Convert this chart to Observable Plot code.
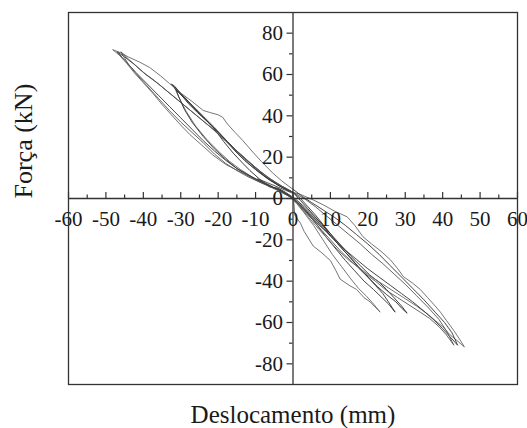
<!DOCTYPE html>
<html><head><meta charset="utf-8">
<script src="https://cdn.jsdelivr.net/npm/d3@7"></script>
<script src="https://cdn.jsdelivr.net/npm/@observablehq/plot@0.6"></script>
<style>body{margin:0;background:#fff}</style>
</head><body><div id="chart"></div>
<script>
// Tick values
const xMajorTicks = [-60,-50,-40,-30,-20,-10,0,10,20,30,40,50,60];
const xMinorTicks = [-55,-45,-35,-25,-15,-5,5,15,25,35,45,55];
const yMajorTicks = [-80,-60,-40,-20,0,20,40,60,80];
const yMinorTicks = [-70,-50,-30,-10,10,30,50,70];
const xTickLabels = ["-60","-50","-40","-30","-20","-10","0","10","20","30","40","50","60"];
const yTickLabels = ["-80","-60","-40","-20","0","20","40","60","80"];
const xLabel = "Deslocamento (mm)";
const yLabel = "Força (kN)";

// Hysteresis cycles: [displacement (mm), force (kN)]
const cycle1 = [[0,0],[1.5,-3],[3,-6],[5,-9.5],[7,-13],[9,-16],[10,-18],[8.5,-15],[6.5,-11],[4.5,-7.5],[2.5,-4],[0.5,-0.5],[-1.5,2],[-3.5,4],[-5.5,5.5],[-7.5,7.5],[-9.5,9.5],[-8,8.5],[-6,7],[-4,5.5],[-2,4],[0,2.5]];
const cycle2 = [[0,2.5],[0.5,-8],[2,-12],[3,-16],[5.4,-23],[7.5,-26],[10,-30],[11.5,-35],[12.6,-39],[15,-42],[17,-44],[19,-48],[20.6,-50],[23.3,-55],
  [21.5,-51],[19.5,-47],[17.5,-43.5],[15.5,-39],[13,-33],[10.5,-27],[8,-20],[5.5,-13],[3,-7],[1,-2.5],
  [-1,1],[-3,3],[-5,5],[-8,7.5],[-11,10.5],[-14,14],[-17,18],[-20,23],[-23,28.5],[-26,35],[-28.5,42],[-30.5,49],[-32,55],
  [-30,51],[-28,47],[-26,43.5],[-23.5,39],[-21,34.5],[-18,28.5],[-15,22.5],[-12,17],[-9,12.5],[-6,8.5],[-3,5.5],[0,3]];
const cycle3 = [[0,3],[2,0],[4,-4],[6,-8],[8,-12.5],[10,-17],[12,-22],[14,-26],[16,-30],[18,-34.5],[20,-38],[22,-42],[24,-46],[25.5,-50],[27.3,-55],
  [25.5,-51],[23.5,-47.5],[21.5,-44],[19,-40],[16.5,-35],[14,-30],[11.5,-24.5],[9,-19],[6.5,-13],[4,-7.5],[1.5,-2.5],[0,0],
  [-2,2.5],[-4,4.5],[-6.2,6],[-9,8],[-12,11],[-15,14.5],[-18,19],[-21,24],[-24,30],[-27,37],[-29,43],[-30.5,49],[-31.5,54],
  [-30,50.5],[-28,46],[-25.5,41.5],[-23,37.5],[-20.5,33],[-18,28],[-15.5,23],[-13,18.5],[-10,14],[-7,10],[-4,6.5],[-1.5,4],[0,3]];
const cycle4 = [[0,3],[2,-1],[4,-5],[6,-9],[8,-13],[10,-18],[12.5,-23],[15,-28],[17.5,-33],[20,-38],[22.5,-42.5],[25,-46.5],[27.5,-50],[29,-53],[30.5,-55.5],
  [29,-52],[27,-48],[25,-44],[23,-40.5],[20.5,-37],[18,-32.5],[15.5,-28],[13,-23],[10.5,-18],[8,-13],[5.5,-8.5],[3,-4],[0.5,0],
  [-2,3],[-4,5],[-6.2,5.6],[-9,9.5],[-11.5,13.5],[-13.4,17],[-16,22],[-18.5,27.5],[-21.4,34.5],[-24,39.5],[-26.5,44],[-29,48.5],[-31,52],[-32.5,55.5],
  [-31,52.5],[-29,49],[-27,45],[-25,41],[-22.5,36.5],[-20,32],[-17.5,27.5],[-15,23],[-12.5,19],[-10,15],[-7,10.5],[-4,7],[-1,4],[0,3]];
const cycle5 = [[0,3],[2,2],[5.4,-0.7],[8,-3],[11,-6],[14.5,-8.9],[16.5,-13],[18.7,-18.5],[21,-22],[23.5,-25.5],[26,-29.6],[28,-34],[29.5,-37.8],[32,-41],[34,-44],[36,-48],[38,-52],[39.4,-55],[41,-59],[43,-64],[44.5,-68],[45.8,-71.8],
  [44,-69],[42,-66],[40,-62],[38,-59],[36,-56],[33,-52],[30,-48.5],[27,-45],[24,-41.5],[21,-38],[18,-34],[15,-30],[12,-25],[9,-19],[6,-13],[3,-6.5],[1,-2],[0,0],
  [-3,3],[-6.2,6.5],[-10,9.5],[-14.2,13],[-18,16.5],[-21.4,21],[-24.5,26],[-27.6,31],[-30,35.5],[-32.5,40.5],[-35,45.5],[-37.5,51],[-40,56],[-42.5,61],[-44.5,65.5],[-46.5,69.5],[-48.2,72],
  [-46,70.5],[-44,68.5],[-41,66],[-38.3,63.4],[-35.5,59.5],[-33,55.6],[-30,51],[-27,47],[-24,42.6],[-22,41.5],[-20,40.5],[-18.8,39.3],[-17.5,36],[-15.5,32],[-13.4,28],[-11,23],[-8.5,18],[-5.4,12.3],[-3,8.5],[-0.8,5.5],[0,4.5]];
const cycle6 = [[0,4.5],[2.5,1],[5,-2],[8,-5.5],[11,-9],[14,-13],[17,-17.5],[20,-22],[23,-27],[26,-32.5],[29,-38],[32,-43.5],[35,-49],[38,-55],[40.5,-60],[42.5,-65],[44,-71],
  [42,-67],[40,-63],[37.5,-58.5],[35,-54.5],[32,-50],[29,-46],[26,-42],[23,-38],[20,-34],[17,-29.5],[14,-25],[11,-20],[8,-14.5],[5,-9],[2.5,-4],[0,0],
  [-3,3.5],[-6,6],[-9,8.5],[-12,11.5],[-15,14.5],[-18,18.5],[-21,23],[-24,28],[-27,33.5],[-30,39],[-33,44.5],[-36,50],[-39,55.5],[-42,61],[-44.5,66],[-47,71],
  [-45,68.5],[-42.5,65],[-40,61],[-37,57],[-34,52.5],[-31,48],[-28,43.5],[-25,39],[-22,34.5],[-19,29.5],[-16,24.5],[-13,19.5],[-10,14.5],[-7,10],[-4,6.5],[-1.5,4],[0,3]];
const cycle7 = [[0,3],[3,0],[6,-4],[9,-8.5],[12,-13],[15,-17.5],[18,-22],[21,-27],[24,-31.5],[27,-36.5],[30,-41.5],[33,-47],[36,-52.5],[39,-58.5],[41,-64],[43,-71],
  [41,-66],[39,-62],[36.5,-58],[34,-55],[31,-51.5],[28,-48],[25,-44.5],[22,-40],[19,-36],[16,-31],[13,-26],[10,-20],[7,-14],[4,-7.5],[1.5,-2.5],[0,0],
  [-3,3],[-6,5.5],[-9,8],[-12,10.5],[-15,13.5],[-18,17],[-21,21.5],[-24,27],[-27,32],[-30,37],[-33,42.5],[-36,48.5],[-39,54.5],[-42,60.5],[-44,65],[-46,71],
  [-44,67.5],[-41.5,63.5],[-39,59.5],[-36,55.5],[-33,51],[-30,46.5],[-27,42],[-24,37.5],[-21,33],[-18,28],[-15,23],[-12,18],[-9,13.5],[-6,9.5],[-3,6],[0,3]];

const cycles = [cycle1, cycle2, cycle3, cycle4, cycle5, cycle6, cycle7];
const cycleStroke = ["#444", "#666", "#333", "#2a2a2a", "#666", "#333", "#555"];

const rows = cycles.flatMap((c, i) => c.map(([d, f]) => ({d, f, cycle: i})));

const fontTick = 21;
const chart = Plot.plot({
  width: 527,
  height: 428,
  marginLeft: 68,
  marginRight: 10,
  marginTop: 12,
  marginBottom: 44,
  x: {domain: [-60, 60], axis: null},
  y: {domain: [-90, 90], axis: null},
  style: {fontFamily: "'Liberation Serif', 'Times New Roman', serif", color: "#1a1a1a", background: "white", overflow: "visible"},
  marks: [
    Plot.line(rows, {x: "d", y: "f", z: "cycle", stroke: d => cycleStroke[d.cycle], strokeWidth: 1, strokeOpacity: 0.9}),
    Plot.ruleY([0], {stroke: "#333", strokeWidth: 1.3}),
    Plot.ruleX([0], {stroke: "#333", strokeWidth: 1.3}),
    Plot.ruleX(xMajorTicks, {x: d => d, y1: 0, y2: 0, insetTop: -6, stroke: "#333", strokeWidth: 1.2}),
    Plot.ruleX(xMinorTicks, {x: d => d, y1: 0, y2: 0, insetTop: -3.5, stroke: "#333", strokeWidth: 1.2}),
    Plot.ruleY(yMajorTicks, {y: d => d, x1: 0, x2: 0, insetLeft: -6, stroke: "#333", strokeWidth: 1.2}),
    Plot.ruleY(yMinorTicks, {y: d => d, x1: 0, x2: 0, insetLeft: -3.5, stroke: "#333", strokeWidth: 1.2}),
    Plot.text(xTickLabels, {x: (d, i) => xMajorTicks[i], y: 0, dy: 21, text: d => d, fontSize: fontTick, fill: "#1a1a1a"}),
    Plot.text(yTickLabels, {x: 0, y: (d, i) => yMajorTicks[i], dx: -10, textAnchor: "end", text: d => d, fontSize: fontTick, fill: "#1a1a1a"}),
    Plot.frame({stroke: "#333", strokeWidth: 1.3}),
    Plot.text([xLabel], {frameAnchor: "bottom", lineAnchor: "middle", dy: 30, text: d => d, fontSize: 25, fill: "#1a1a1a"}),
    Plot.text([yLabel], {frameAnchor: "left", lineAnchor: "middle", dx: -45, rotate: -90, text: d => d, fontSize: 26, fill: "#1a1a1a"})
  ]
});
document.getElementById("chart").appendChild(chart);
</script>
</body></html>
